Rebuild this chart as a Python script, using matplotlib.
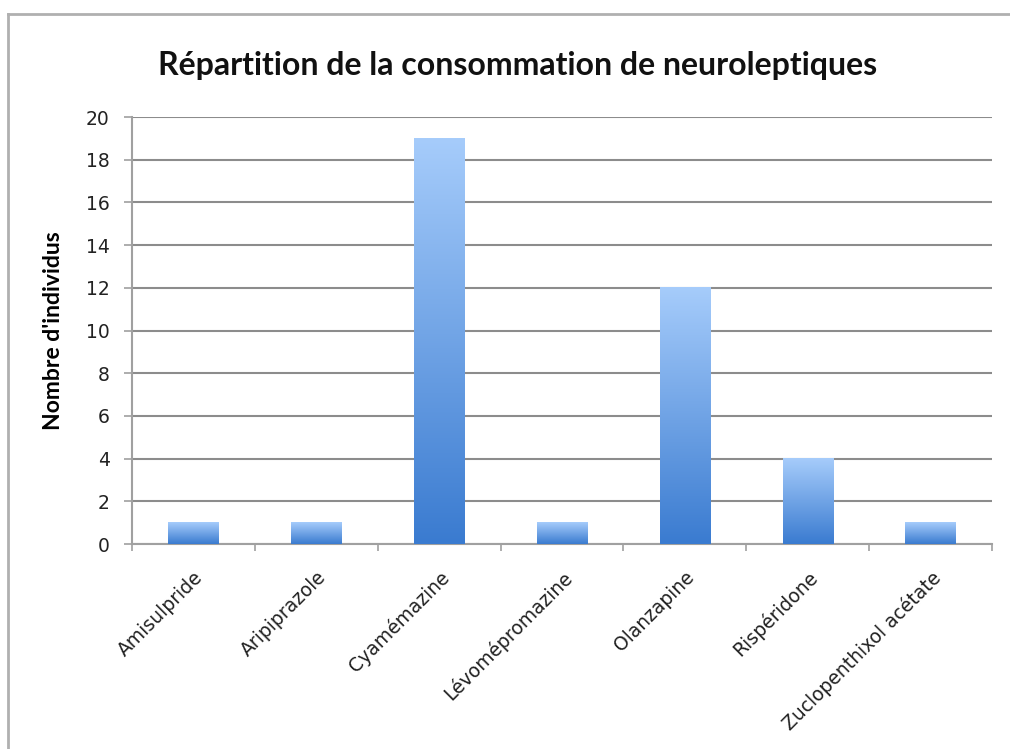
import numpy as np
import matplotlib as mpl
mpl.use("Agg")
import matplotlib.pyplot as plt
from matplotlib.colors import LinearSegmentedColormap
from matplotlib.lines import Line2D

# data
categories = ["Amisulpride", "Aripiprazole", "Cyamémazine", "Lévomépromazine",
              "Olanzapine", "Rispéridone", "Zuclopenthixol acétate"]
counts = [1, 1, 19, 1, 12, 4, 1]
y_ticks = [0, 2, 4, 6, 8, 10, 12, 14, 16, 18, 20]

mpl.rcParams['font.family'] = ['Lato', 'DejaVu Sans']

GRID_C = "#8c8c8c"
AX_C = "#a0a0a0"
BAR_W = 0.41
TICK_FONT = ['DejaVu Sans']
grad = LinearSegmentedColormap.from_list("bar", ["#3a7bd0", "#a6ccfb"])

fig = plt.figure(figsize=(10.10, 7.49), dpi=100)
ax = fig.add_axes([132 / 1010, 1 - 544 / 749, (992 - 132) / 1010, (544 - 117) / 749])

# outer frame (top and left edges visible)
fig.add_artist(Line2D([8 / 1010, 1.0], [1 - 14 / 749] * 2, color="#b0b0b0", lw=2))
fig.add_artist(Line2D([8 / 1010] * 2, [0.0, 1 - 14 / 749], color="#b0b0b0", lw=2))

x = np.arange(len(categories))
gradient = np.linspace(0, 1, 256).reshape(-1, 1)
for xi, h in zip(x, counts):
    ax.imshow(gradient, cmap=grad, origin="lower", aspect="auto",
              extent=[xi - BAR_W / 2, xi + BAR_W / 2, 0, h], zorder=3,
              interpolation="bilinear")

ax.set_xlim(-0.5, len(categories) - 0.5)
ax.set_ylim(0, 20)
ax.set_yticks(y_ticks)
ax.set_yticklabels([str(v) for v in y_ticks], fontsize=13.5, color="#222222",
                   family=TICK_FONT)
ax.yaxis.grid(True, color=GRID_C, lw=1.5)
ax.set_axisbelow(True)

ax.set_xticks(x)
ax.set_xticklabels(categories, rotation=45, ha="right", va="top",
                   rotation_mode="anchor", fontsize=13.5, color="#222222",
                   family=TICK_FONT)
ax.tick_params(axis="x", which="major", length=0, pad=17)
ax.set_xticks(np.arange(-0.5, len(categories), 1.0), minor=True)
ax.tick_params(axis="x", which="minor", length=5, width=1.2, color=AX_C, direction="out")
ax.tick_params(axis="y", length=6, width=1.2, color=AX_C, pad=10)

for s in ["top", "right"]:
    ax.spines[s].set_visible(False)
for s in ["left", "bottom"]:
    ax.spines[s].set_color(AX_C)
    ax.spines[s].set_linewidth(1.5)

ax.set_ylabel("Nombre d'individus", fontsize=16.5, fontweight="bold")
ax.yaxis.set_label_coords((64 - 132) / 860, 0.5)
fig.text(518 / 1010, 1 - 66 / 749, "Répartition de la consommation de neuroleptiques",
         ha="center", va="center", fontsize=23, fontweight="bold", color="#111111")

fig.savefig("out.png", dpi=100)
